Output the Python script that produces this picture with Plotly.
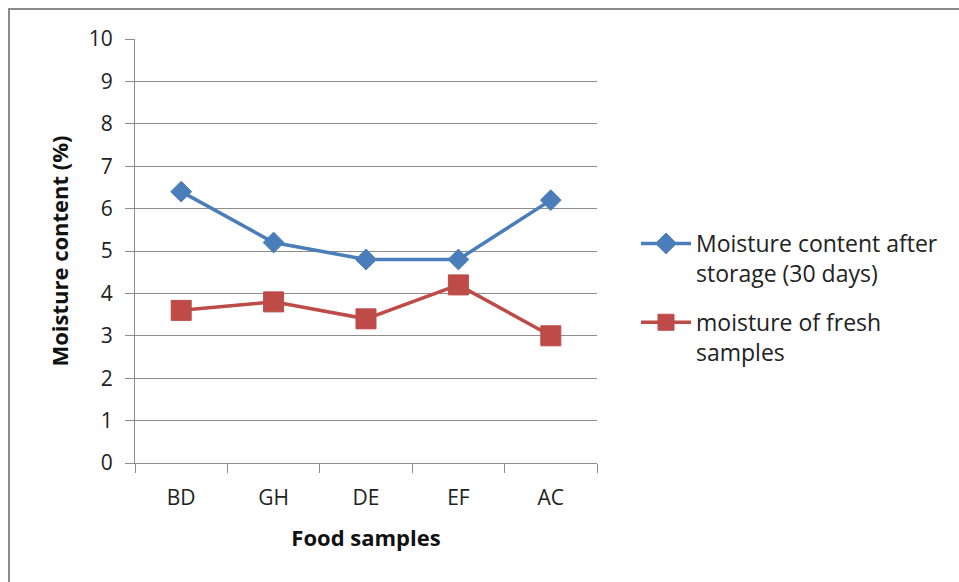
import plotly.graph_objects as go

samples = ["BD", "GH", "DE", "EF", "AC"]
after_storage = [6.4, 5.2, 4.8, 4.8, 6.2]
fresh = [3.6, 3.8, 3.4, 4.2, 3.0]
y_ticks = list(range(0, 11))

W, H = 959, 582
L, R, T, B = 135, 362, 39, 119
pw, ph = W - L - R, H - T - B

def px_x(x):
    return (x - L) / pw

def px_y(y):
    return (H - B - y) / ph

font_family = "Open Sans, Lato, sans-serif"

fig = go.Figure()
fig.add_trace(go.Scatter(
    x=samples, y=after_storage, mode="lines+markers",
    name="Moisture content after<br>storage (30 days)",
    legendgroup="stored",
    line=dict(color="#4A7EBB", width=3.5),
    marker=dict(symbol="diamond", size=16, color="#4A7EBB",
                line=dict(color="#4A7EBB", width=1)),
))
fig.add_trace(go.Scatter(
    x=samples, y=fresh, mode="lines+markers",
    name="moisture of fresh<br>samples",
    legendgroup="fresh",
    line=dict(color="#BE4B48", width=3.5),
    marker=dict(symbol="square", size=20, color="#BE4B48",
                line=dict(color="#BE4B48", width=1)),
))

# outer chart border
fig.add_shape(type="rect", xref="paper", yref="paper",
              x0=px_x(9), x1=px_x(975), y0=px_y(600), y1=px_y(9),
              line=dict(color="#8c8c8c", width=2), fillcolor="rgba(0,0,0,0)",
              layer="below")

fig.update_layout(
    width=W, height=H,
    margin=dict(l=L, r=R, t=T, b=B),
    paper_bgcolor="white", plot_bgcolor="white",
    font=dict(family=font_family, color="#222222"),
    showlegend=True,
    legend=dict(
        x=px_x(636), y=px_y(222), xanchor="left", yanchor="top",
        font=dict(size=23, color="#222222"),
        traceorder="grouped", tracegroupgap=16, itemwidth=50, valign="top",
        bgcolor="rgba(0,0,0,0)",
    ),
    xaxis=dict(
        type="category", range=[-0.5, 4.5],
        tickson="boundaries", ticks="outside", ticklen=9,
        tickcolor="#8c8c8c", tickwidth=1,
        showline=True, linecolor="#8c8c8c", linewidth=1,
        showgrid=False, zeroline=False,
        tickfont=dict(size=21, color="#222222"),
        ticklabelstandoff=16,
        title=dict(text="<b>Food samples</b>", font=dict(size=22, color="#111111"),
                   standoff=20),
    ),
    yaxis=dict(
        range=[0, 10], tickvals=y_ticks, ticktext=[str(v) for v in y_ticks],
        ticks="outside", ticklen=9, tickcolor="#8c8c8c", tickwidth=1,
        showline=True, linecolor="#8c8c8c", linewidth=1,
        showgrid=True, gridcolor="#8c8c8c", gridwidth=1,
        zeroline=False,
        tickfont=dict(size=21, color="#222222"),
        ticklabelstandoff=8,
        title=dict(text="<b>Moisture content (%)</b>", font=dict(size=22, color="#111111"),
                   standoff=14),
    ),
)

fig.write_html("out.html")
